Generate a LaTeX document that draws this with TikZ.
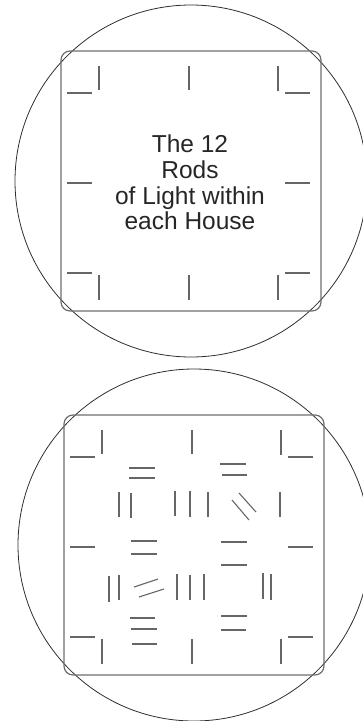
\documentclass[tikz,border=0pt]{standalone}
\usepackage{fontspec}
\setmainfont{Liberation Sans}
\definecolor{cring}{HTML}{2e2e2e}
\definecolor{cframe}{HTML}{6e6e6e}
\definecolor{crod}{HTML}{666666}

\begin{document}
\begin{tikzpicture}[
  x=1pt, y=-1pt,
  ringline/.style={draw=cring, line width=0.8pt},
  houseframe/.style={draw=cframe, line width=1.2pt, rounded corners=9pt},
  rodline/.style={draw=crod, line width=1.1pt},
  housetext/.style={font=\fontsize{24.5}{25.6}\selectfont, align=center, text=black!85},
  ]
\useasboundingbox (0,0) rectangle (362,721);
% the two houses with their outer twelve rods
\foreach \cx/\cy in {191/181, 194/545} {
  \begin{scope}[shift={(\cx,\cy)}]
    \draw[ringline] (0,0) circle[radius=176];
    \draw[houseframe] (-130,-130) rectangle (130,130);
    \foreach \a/\b in {{-92,-115}/{-92,-91}, {-124,-88}/{-99,-88},
                       {-2,-115}/{-2,-91},
                       {87,-115}/{87,-90}, {94,-88}/{119,-88},
                       {-124,2}/{-99,2}, {94,2}/{119,2},
                       {-124,92}/{-99,92}, {-92,94}/{-92,119},
                       {-2,94}/{-2,119},
                       {94,92}/{119,92}, {87,94}/{87,119}}
      \draw[rodline] (\a) -- (\b);
  \end{scope}
}
\node[housetext] (title) at (190,182.5) {The 12\\Rods\\of Light within\\each House};
% inner rods of the lower house
\begin{scope}[shift={(194,545)}]
  \foreach \a/\b in {{-65,-77}/{-39,-77}, {-65,-67}/{-39,-67},
                     {26,-81}/{52,-81}, {28,-70}/{53,-70},
                     {-75,-53}/{-75,-28}, {-63,-52}/{-63,-27},
                     {-19,-54}/{-19,-29}, {-4,-54}/{-4,-28}, {14,-53}/{14,-28},
                     {45,-52}/{62,-33}, {38,-45}/{55,-25},
                     {86,-53}/{86,-28},
                     {-63,-4}/{-37,-4}, {-63,9}/{-37,9},
                     {27,-3}/{53,-3}, {27,20}/{53,20},
                     {-85,31}/{-85,57}, {-75,30}/{-75,55},
                     {-60,42}/{-36,34}, {-55,52}/{-30,44},
                     {-17,29}/{-17,55}, {-4,30}/{-4,55}, {10,29}/{10,55},
                     {69,28}/{69,54}, {77,29}/{77,55},
                     {-64,73}/{-39,73}, {-63,84}/{-37,84}, {-62,99}/{-37,99},
                     {27,71}/{53,71}, {27,85}/{52,85}}
    \draw[rodline] (\a) -- (\b);
\end{scope}
\end{tikzpicture}
\end{document}
